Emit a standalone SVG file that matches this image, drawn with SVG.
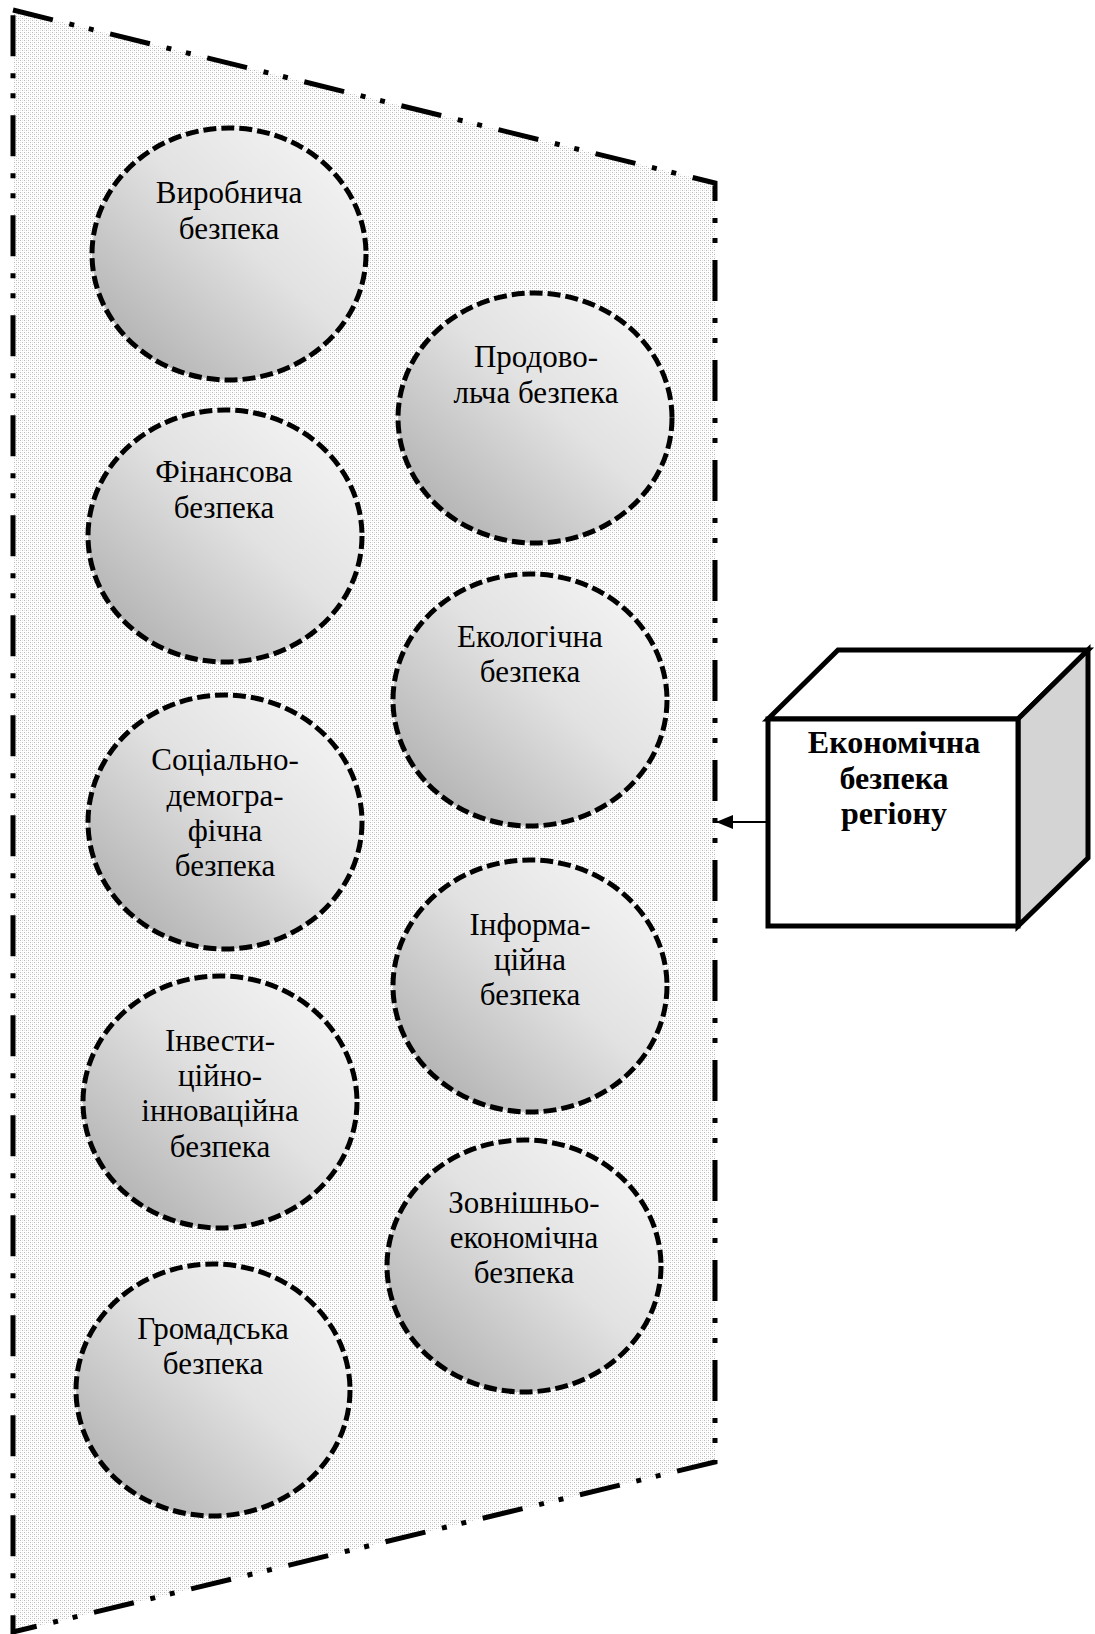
<svg xmlns="http://www.w3.org/2000/svg" width="1095" height="1634" viewBox="0 0 1095 1634">
<defs>
<pattern id="stipple" width="4" height="4" patternUnits="userSpaceOnUse">
<rect width="4" height="4" fill="#ffffff"/>
<rect x="0" y="0" width="1" height="1" fill="#b8b8b8"/>
<rect x="2" y="2" width="1" height="1" fill="#b8b8b8"/>
<rect x="2" y="0" width="1" height="1" fill="#e4e4e4"/>
<rect x="0" y="2" width="1" height="1" fill="#e4e4e4"/>
</pattern>
<linearGradient id="ball" x1="1" y1="0" x2="0" y2="1">
<stop offset="0" stop-color="#f8f8f8"/>
<stop offset="0.45" stop-color="#e2e2e2"/>
<stop offset="1" stop-color="#a6a6a6"/>
</linearGradient>
<marker id="arr" markerWidth="17" markerHeight="14" refX="17" refY="7" orient="auto" markerUnits="userSpaceOnUse" viewBox="0 0 17 14">
<path d="M0,0 L17,7 L0,14 Z" fill="#000"/>
</marker>
</defs>
<style>
.frame{fill:url(#stipple);stroke:#000;stroke-width:5;stroke-dasharray:41 17 5 15 5 17;}
.ball{fill:url(#ball);stroke:#000;stroke-width:5;stroke-dasharray:13 5;}
.t{font-family:"Liberation Serif","Times New Roman",serif;font-size:31px;fill:#000;text-anchor:middle;}
.tb{font-family:"Liberation Serif","Times New Roman",serif;font-size:32px;font-weight:bold;fill:#000;text-anchor:middle;}
.cube{stroke:#000;stroke-width:5;stroke-linejoin:miter;}
</style>
<g id="region-frame">
<path class="frame" d="M13,10 L715,183 L715,1462 L13,1632 Z"/>
</g>
<g id="n-vyrobnycha">
<ellipse class="ball" cx="229" cy="254" rx="137" ry="126"/>
<text class="t" x="229" y="203">Виробнича</text>
<text class="t" x="229" y="239">безпека</text>
</g>
<g id="n-prodovolcha">
<ellipse class="ball" cx="535" cy="418" rx="137" ry="125"/>
<text class="t" x="536" y="367">Продово-</text>
<text class="t" x="536" y="403">льча безпека</text>
</g>
<g id="n-finansova">
<ellipse class="ball" cx="225" cy="536" rx="137" ry="126"/>
<text class="t" x="224" y="482">Фінансова</text>
<text class="t" x="224" y="518">безпека</text>
</g>
<g id="n-ekolohichna">
<ellipse class="ball" cx="530" cy="700" rx="137" ry="126"/>
<text class="t" x="530" y="647">Екологічна</text>
<text class="t" x="530" y="682">безпека</text>
</g>
<g id="n-sotsialno">
<ellipse class="ball" cx="225" cy="822" rx="137" ry="127"/>
<text class="t" x="225" y="770">Соціально-</text>
<text class="t" x="225" y="806">демогра-</text>
<text class="t" x="225" y="841">фічна</text>
<text class="t" x="225" y="876">безпека</text>
</g>
<g id="n-informatsiina">
<ellipse class="ball" cx="530" cy="986" rx="137" ry="126"/>
<text class="t" x="530" y="935">Інформа-</text>
<text class="t" x="530" y="970">ційна</text>
<text class="t" x="530" y="1005">безпека</text>
</g>
<g id="n-investytsiino">
<ellipse class="ball" cx="220" cy="1102" rx="137" ry="126"/>
<text class="t" x="220" y="1051">Інвести-</text>
<text class="t" x="220" y="1086">ційно-</text>
<text class="t" x="220" y="1121">інноваційна</text>
<text class="t" x="220" y="1157">безпека</text>
</g>
<g id="n-zovnishnio">
<ellipse class="ball" cx="524" cy="1266" rx="137" ry="126"/>
<text class="t" x="524" y="1213">Зовнішньо-</text>
<text class="t" x="524" y="1248">економічна</text>
<text class="t" x="524" y="1283">безпека</text>
</g>
<g id="n-hromadska">
<ellipse class="ball" cx="213" cy="1390" rx="137" ry="126"/>
<text class="t" x="213" y="1339">Громадська</text>
<text class="t" x="213" y="1374">безпека</text>
</g>
<g id="n-ekonomichna">
<polygon class="cube" fill="#ffffff" points="768,719 838,650 1088,650 1018,719"/>
<polygon class="cube" fill="#d4d4d4" points="1018,719 1088,650 1088,858 1018,926"/>
<rect class="cube" fill="#ffffff" x="768" y="719" width="250" height="207"/>
<text class="tb" x="894" y="753">Економічна</text>
<text class="tb" x="894" y="789">безпека</text>
<text class="tb" x="894" y="824">регіону</text>
</g>
<g id="connectors">
<line x1="766" y1="822" x2="716" y2="822" stroke="#000" stroke-width="2" marker-end="url(#arr)"/>
</g>
</svg>
